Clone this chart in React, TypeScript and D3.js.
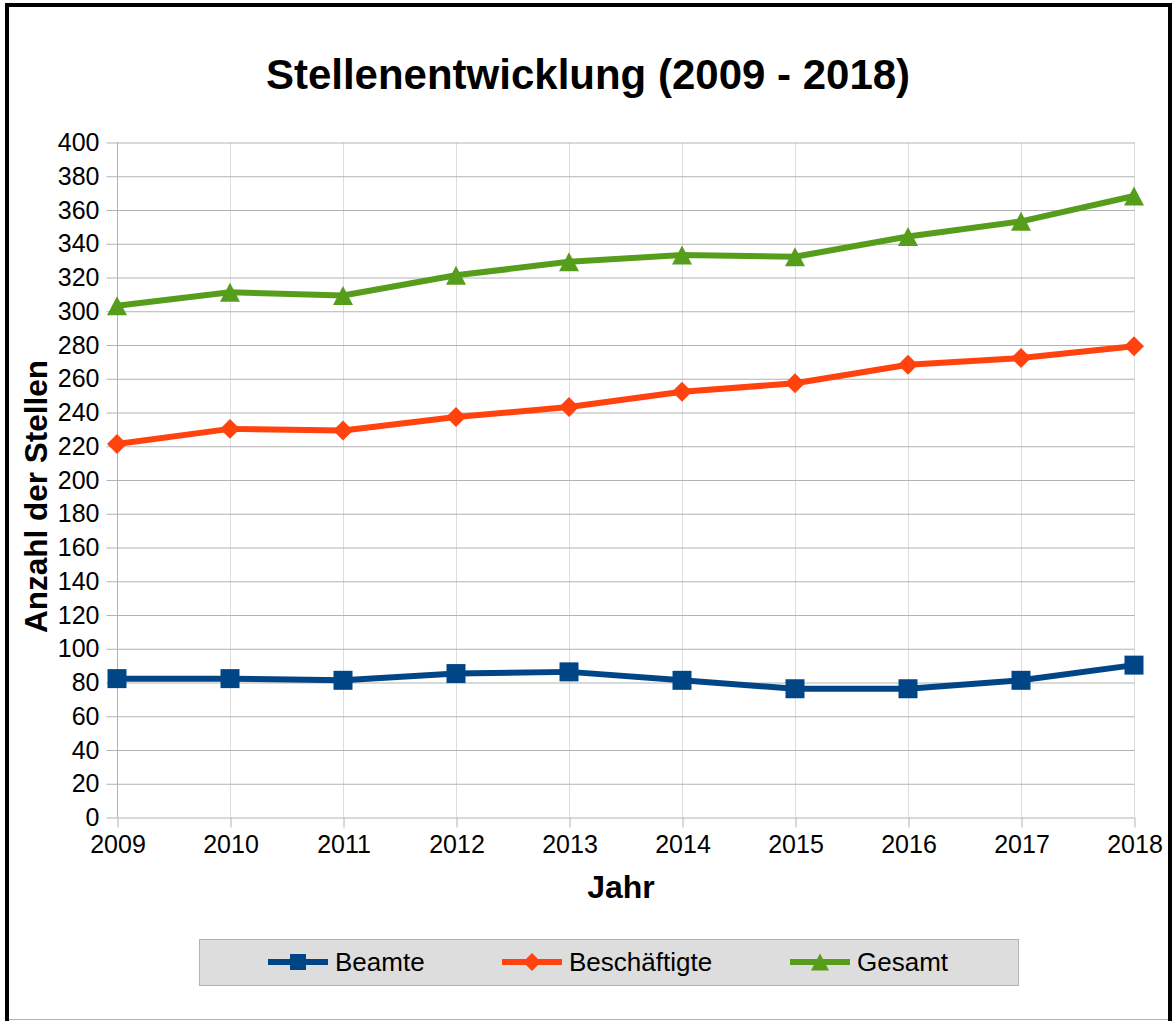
import { useEffect, useRef } from "react";
import * as d3 from "d3";

const years = ["2009", "2010", "2011", "2012", "2013", "2014", "2015", "2016", "2017", "2018"];
const beamte = [82, 82, 81, 85, 86, 81, 76, 76, 81, 90];
const beschaeftigte = [221, 230, 229, 237, 243, 252, 257, 268, 272, 279];
const gesamt = [303, 311, 309, 321, 329, 333, 332, 344, 353, 368];
const yTicks = d3.range(0, 401, 20);

const FONT = "'Liberation Sans', Arial, sans-serif";

// dreieck mit mittelpunkt in der bounding box
const triangleBox = {
  draw(ctx: any, size: number) {
    const w = Math.sqrt(size);
    const h = w * 0.95;
    ctx.moveTo(0, -h / 2);
    ctx.lineTo(w / 2, h / 2);
    ctx.lineTo(-w / 2, h / 2);
    ctx.closePath();
  },
};

const series = [
  { name: "Beamte", values: beamte, color: "#004586", shape: "square" },
  { name: "Beschäftigte", values: beschaeftigte, color: "#ff420e", shape: "diamond" },
  { name: "Gesamt", values: gesamt, color: "#579d1c", shape: "triangle" },
];

const App = () => {
  const svgRef = useRef<SVGSVGElement>(null);

  useEffect(() => {
    const W = 1172;
    const H = 1021;
    const left = 117;
    const right = 1134;
    const top = 142;
    const bottom = 817;

    const svg = d3.select(svgRef.current);
    svg.selectAll("*").remove();
    svg.attr("width", W).attr("height", H);

    svg.append("rect").attr("width", W).attr("height", H).attr("fill", "#fff");

    const x = d3.scalePoint().domain(years).range([left, right]);
    const y = d3.scaleLinear().domain([0, 400]).range([bottom, top]);

    // Rahmen
    svg.append("line").attr("x1", 7).attr("x2", 7).attr("y1", 3).attr("y2", 1021)
      .attr("stroke", "#000").attr("stroke-width", 4);
    svg.append("line").attr("x1", 5).attr("x2", 1172).attr("y1", 5).attr("y2", 5)
      .attr("stroke", "#000").attr("stroke-width", 4);
    svg.append("line").attr("x1", 1170).attr("x2", 1170).attr("y1", 3).attr("y2", 1021)
      .attr("stroke", "#000").attr("stroke-width", 4);
    svg.append("line").attr("x1", 9).attr("x2", 1168).attr("y1", 1019.5).attr("y2", 1019.5)
      .attr("stroke", "#b3b3b3").attr("stroke-width", 1);

    // Titel
    svg.append("text")
      .attr("x", 588).attr("y", 89)
      .attr("text-anchor", "middle")
      .style("font-family", FONT).style("font-size", "42px").style("font-weight", "bold")
      .text("Stellenentwicklung (2009 - 2018)");

    // vertikale Gitterlinien
    const g = svg.append("g");
    years.forEach((yr, i) => {
      g.append("line")
        .attr("x1", x(yr)! + 0.5).attr("x2", x(yr)! + 0.5)
        .attr("y1", top).attr("y2", bottom)
        .attr("stroke", i === 0 ? "#b3b3b3" : "#dddddd").attr("stroke-width", 1);
    });

    // x-Achse
    const xAxis = d3.axisBottom(x).tickSize(10).tickSizeOuter(0).tickPadding(8);
    const xg = g.append("g")
      .attr("transform", `translate(0.5,${bottom + 0.5})`)
      .call(xAxis);
    xg.select(".domain").remove();
    xg.selectAll("line").attr("stroke", "#b3b3b3");
    xg.selectAll("text")
      .style("font-family", FONT).style("font-size", "25px").attr("fill", "#000");

    // y-Achse mit horizontalen Gitterlinien
    const yAxis = d3.axisLeft(y).tickValues(yTicks).tickSize(right - left + 11).tickPadding(7);
    const yg = g.append("g")
      .attr("transform", `translate(${right + 0.5},0.5)`)
      .call(yAxis);
    yg.select(".domain").remove();
    yg.selectAll("line").attr("stroke", "#b3b3b3");
    yg.selectAll("text")
      .attr("x", -(right - left + 11) - 7)
      .style("font-family", FONT).style("font-size", "25px").attr("fill", "#000");

    // Achsentitel
    svg.append("text")
      .attr("x", 621).attr("y", 898)
      .attr("text-anchor", "middle")
      .style("font-family", FONT).style("font-size", "32px").style("font-weight", "bold")
      .text("Jahr");

    svg.append("text")
      .attr("transform", `translate(47,${(top + bottom) / 2 + 17}) rotate(-90)`)
      .attr("text-anchor", "middle")
      .style("font-family", FONT).style("font-size", "31.5px").style("font-weight", "bold")
      .text("Anzahl der Stellen");

    const line = d3.line<number>()
      .x((d, i) => x(years[i])!)
      .y(d => y(d));

    const symbolFor = (shape: string, s: number) => {
      if (shape === "square") return d3.symbol().type(d3.symbolSquare).size(s * s)();
      if (shape === "diamond") return d3.symbol().type(d3.symbolSquare).size((s * s) / 2)();
      return d3.symbol().type(triangleBox as any).size(s * s)();
    };

    series.forEach(sr => {
      g.append("path")
        .datum(sr.values)
        .attr("fill", "none")
        .attr("stroke", sr.color)
        .attr("stroke-width", 6)
        .attr("stroke-linejoin", "round")
        .attr("d", line);

      g.selectAll(null)
        .data(sr.values)
        .enter().append("path")
        .attr("d", symbolFor(sr.shape, sr.shape === "square" ? 19 : 20))
        .attr("fill", sr.color)
        .attr("transform", (d, i) =>
          `translate(${x(years[i])},${y(d)})` + (sr.shape === "diamond" ? " rotate(45)" : ""));
    });

    // Legende
    const legend = svg.append("g");
    legend.append("rect")
      .attr("x", 199.5).attr("y", 939.5)
      .attr("width", 819).attr("height", 46)
      .attr("fill", "#dddddd").attr("stroke", "#b3b3b3");

    const legendX = [268, 502, 790];
    series.forEach((sr, i) => {
      const lx = legendX[i];
      legend.append("line")
        .attr("x1", lx).attr("x2", lx + 60)
        .attr("y1", 962).attr("y2", 962)
        .attr("stroke", sr.color).attr("stroke-width", 6);
      legend.append("path")
        .attr("d", symbolFor(sr.shape, sr.shape === "square" ? 16 : 18))
        .attr("fill", sr.color)
        .attr("transform", `translate(${lx + 30},962)` + (sr.shape === "diamond" ? " rotate(45)" : ""));
      legend.append("text")
        .attr("x", lx + 67).attr("y", 971)
        .style("font-family", FONT).style("font-size", "26px")
        .text(sr.name);
    });
  }, []);

  return (
    <svg ref={svgRef} style={{ position: "absolute", left: 0, top: 0, display: "block" }}></svg>
  );
};

export default App;
